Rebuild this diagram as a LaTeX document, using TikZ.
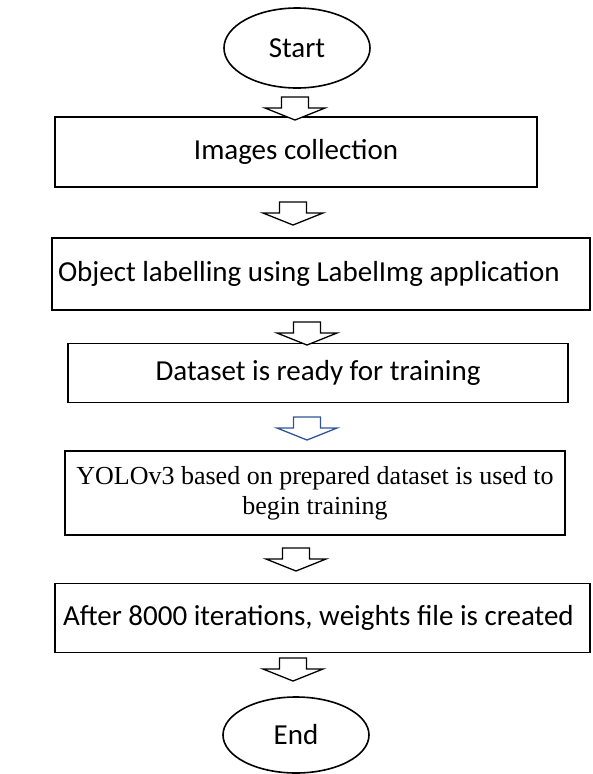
\documentclass[tikz,border=0pt]{standalone}
\usepackage{fontspec}
\setmainfont{Carlito}
\newfontfamily\timesfont{Liberation Serif}
\usepackage{tikz}
\usetikzlibrary{shapes.geometric}
\usepackage{xcolor}
\definecolor{arrowblue}{RGB}{47,85,151}

\begin{document}
\begin{tikzpicture}[x=1pt,y=-1pt,line width=1.6pt,
 box/.style={draw,rectangle,inner sep=0pt,font=\fontsize{29}{35}\selectfont},
 terminal/.style={draw,ellipse,inner sep=0pt,minimum width=146pt,font=\fontsize{29}{35}\selectfont},
 blockarrow/.pic={\draw[line width=1.3pt,fill=white] (-13.5,0) -- (13.5,0) -- (13.5,11) -- (30,11) -- (0,23) -- (-30,11) -- (-13.5,11) -- cycle;}]
 \useasboundingbox (0,0) rectangle (592,774);

 \node[terminal,minimum height=80pt] (start) at (297,48) {Start};
 \node[box,minimum width=482pt,minimum height=70pt] (img) at (296,152) {Images collection};
 \node[box,minimum height=72pt,inner xsep=6pt,text width=526pt,align=flush left] (obj) at (321,274) {\mbox{Object labelling using LabelImg application}};
 \node[box,minimum width=500pt,minimum height=59pt] (data) at (318,373) {Dataset is ready for training};
 \node[box,minimum width=500pt,minimum height=84pt,align=center,font=\timesfont\fontsize{26}{30}\selectfont] (yolo) at (315,493) {YOLOv3 based on prepared dataset is used to\\begin training};
 \node[box,minimum height=69pt,inner xsep=8pt,text width=519pt,align=flush left] (after) at (322.5,618) {\mbox{After 8000 iterations, weights file is created}};
 \node[terminal,minimum height=76pt] (end) at (296,735) {End};

 \pic at (295,97) {blockarrow};
 \pic at (293,202) {blockarrow};
 \pic at (307,322) {blockarrow};
 \pic[arrowblue] at (307,417) {blockarrow};
 \pic at (296,548) {blockarrow};
 \pic at (293,658) {blockarrow};
\end{tikzpicture}
\end{document}
